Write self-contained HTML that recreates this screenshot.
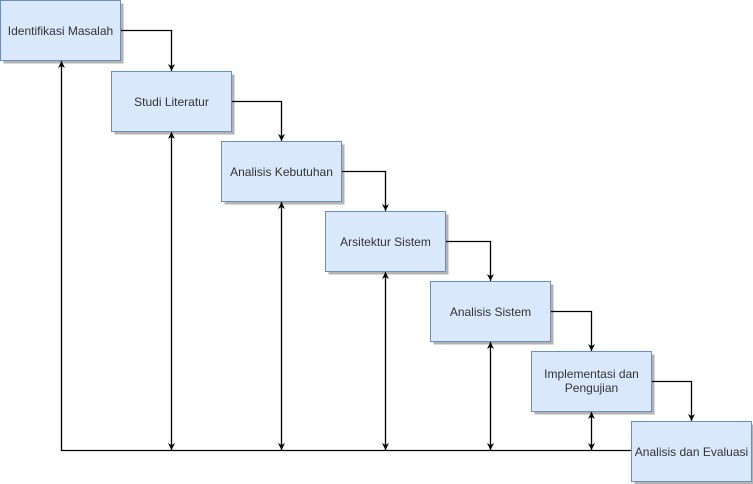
<!DOCTYPE html>
<html><head><meta charset="utf-8"><style>html,body{margin:0;padding:0;background:#fff;}svg{display:block}</style></head>
<body>
<svg width="753" height="484" viewBox="0 0 753 484" xmlns="http://www.w3.org/2000/svg">
<defs>
<marker id="a" viewBox="0 0 10 10" refX="10" refY="5" markerWidth="7" markerHeight="7" orient="auto-start-reverse" markerUnits="userSpaceOnUse">
<path d="M0,0 L10,5 L0,10 L3,5 Z" fill="#000"/>
</marker>
</defs>
<g fill="#b3b3b3">
<rect x="3.5" y="3.5" width="120" height="60"/>
<rect x="114.5" y="74.5" width="120" height="60"/>
<rect x="224.5" y="144.5" width="120" height="60"/>
<rect x="328.5" y="214.5" width="120" height="60"/>
<rect x="433.5" y="284.5" width="120" height="60"/>
<rect x="534.5" y="354.5" width="120" height="60"/>
<rect x="634.5" y="424.5" width="120" height="60"/>
</g>
<g fill="#dae8fc" stroke="#6c8ebf" stroke-width="1">
<rect x="0.5" y="0.5" width="120" height="60"/>
<rect x="111.5" y="71.5" width="120" height="60"/>
<rect x="221.5" y="141.5" width="120" height="60"/>
<rect x="325.5" y="211.5" width="120" height="60"/>
<rect x="430.5" y="281.5" width="120" height="60"/>
<rect x="531.5" y="351.5" width="120" height="60"/>
<rect x="631.5" y="421.5" width="120" height="60"/>
</g>
<g fill="none" stroke="#000" stroke-width="1.3">
<path d="M121 30.5 H171.5 V71" marker-end="url(#a)"/>
<path d="M232 101.5 H281.5 V141" marker-end="url(#a)"/>
<path d="M342 171.5 H385.5 V211" marker-end="url(#a)"/>
<path d="M446 241.5 H490.5 V281" marker-end="url(#a)"/>
<path d="M551 311.5 H591.5 V351" marker-end="url(#a)"/>
<path d="M652 381.5 H691.5 V421" marker-end="url(#a)"/>
<path d="M631 450.5 H61.5 V61" marker-end="url(#a)"/>
<path d="M171.5 450 V132" marker-start="url(#a)" marker-end="url(#a)"/>
<path d="M281.5 450 V202" marker-start="url(#a)" marker-end="url(#a)"/>
<path d="M385.5 450 V272" marker-start="url(#a)" marker-end="url(#a)"/>
<path d="M490.5 450 V342" marker-start="url(#a)" marker-end="url(#a)"/>
<path d="M591.5 450 V412" marker-start="url(#a)" marker-end="url(#a)"/>
</g>
<g font-family="Liberation Sans, Arial, sans-serif" font-size="12" fill="#333" text-anchor="middle">
<text x="60.5" y="35">Identifikasi Masalah</text>
<text x="171.5" y="106">Studi Literatur</text>
<text x="281.5" y="176">Analisis Kebutuhan</text>
<text x="385.5" y="246">Arsitektur Sistem</text>
<text x="490.5" y="316">Analisis Sistem</text>
<text x="591.5" y="378">Implementasi dan</text>
<text x="591.5" y="392">Pengujian</text>
<text x="691.5" y="456">Analisis dan Evaluasi</text>
</g>
</svg>
</body></html>
